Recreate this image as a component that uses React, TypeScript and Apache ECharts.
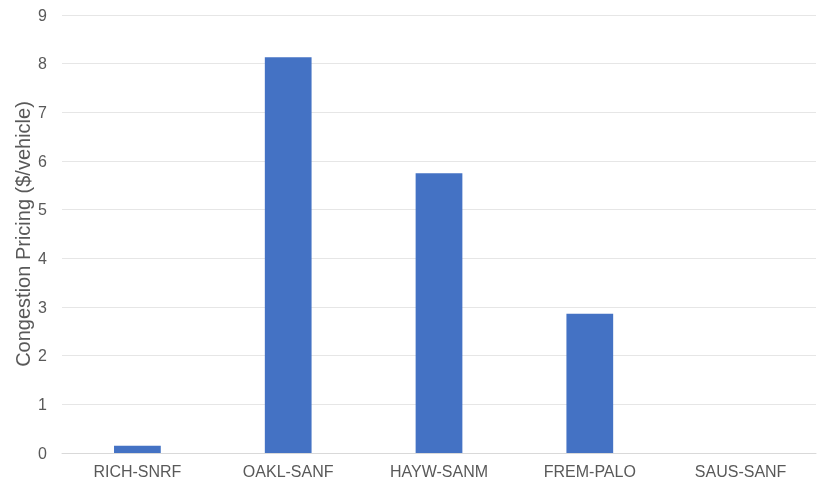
import React, { useEffect, useRef } from "react";
import * as echarts from "echarts";

const categories = ["RICH-SNRF", "OAKL-SANF", "HAYW-SANM", "FREM-PALO", "SAUS-SANF"];
const values = [0.15, 8.13, 5.75, 2.86, 0];
const yAxisName = "Congestion Pricing ($/vehicle)";

export default function App() {
  const ref = useRef<HTMLDivElement>(null);
  useEffect(() => {
    const chart = echarts.init(ref.current!, null, { renderer: "svg" });
    chart.setOption({
      animation: false,
      textStyle: { fontFamily: "Liberation Sans, Arial, sans-serif" },
      grid: { left: 62, right: 14, top: 15, bottom: 37, containLabel: false },
      xAxis: {
        type: "category",
        data: categories,
        axisLine: { lineStyle: { color: "#d9d9d9", width: 1 } },
        axisTick: { show: false },
        axisLabel: { color: "#595959", fontSize: 16, margin: 10 },
      },
      yAxis: {
        type: "value",
        min: 0,
        max: 9,
        interval: 1,
        name: yAxisName,
        nameLocation: "middle",
        nameGap: 29,
        nameMoveOverlap: false,
        nameTextStyle: { color: "#595959", fontSize: 20 },
        axisLine: { show: false },
        axisTick: { show: false },
        axisLabel: { color: "#595959", fontSize: 16, margin: 15 },
        splitLine: { lineStyle: { color: "#e6e6e6", width: 1 } },
      },
      series: [
        {
          type: "bar",
          data: values,
          barWidth: "31%",
          itemStyle: { color: "#4472C4" },
        },
      ],
    });
    return () => chart.dispose();
  }, []);
  return (
    <div
      ref={ref}
      style={{ position: "fixed", left: 0, top: 0, width: 830, height: 490 }}
    />
  );
}
